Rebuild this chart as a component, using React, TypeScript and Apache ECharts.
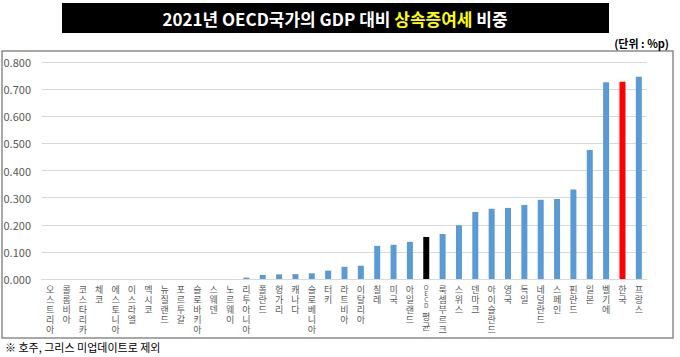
import React, { useEffect, useRef } from "react";
import * as echarts from "echarts";

const categories = [
  "오스트리아", "콜롬비아", "코스타리카", "체코", "에스토니아", "이스라엘", "멕시코", "뉴질랜드",
  "포르투갈", "슬로바키아", "스웨덴", "노르웨이", "리투아니아", "폴란드", "헝가리", "캐나다",
  "슬로베니아", "터키", "라트비아", "이탈리아", "칠레", "미국", "아일랜드", "OECD 평균",
  "룩셈부르크", "스위스", "덴마크", "아이슬란드", "영국", "독일", "네덜란드", "스페인",
  "핀란드", "일본", "벨기에", "한국", "프랑스",
];
const values = [
  0, 0, 0, 0, 0, 0, 0, 0, 0, 0, 0, 0,
  0.005, 0.015, 0.017, 0.018, 0.021, 0.031, 0.045, 0.049, 0.122, 0.126, 0.137, 0.155,
  0.166, 0.198, 0.247, 0.259, 0.262, 0.273, 0.292, 0.295, 0.33, 0.476, 0.725, 0.727, 0.746,
];
const yTicks = { min: 0, max: 0.8, interval: 0.1 };
const highlight: Record<string, string> = { "OECD 평균": "#000000", "한국": "#FF0000" };
const baseColor = "#5B9BD5";

const titleMain = "2021년 OECD국가의 GDP 대비 ";
const titleHi = "상속증여세";
const titleEnd = " 비중";
const unitLabel = "(단위 : %p)";
const footnote = "※ 호주, 그리스 미업데이트로 제외";

export default function App() {
  const ref = useRef<HTMLDivElement>(null);
  useEffect(() => {
    if (!ref.current) return;
    const chart = echarts.init(ref.current, null, { renderer: "svg" });
    const font = "'Noto Sans CJK KR', 'Noto Sans', sans-serif";
    chart.setOption({
      animation: false,
      textStyle: { fontFamily: font },
      grid: { left: 42, right: 33, top: 62, bottom: 78, containLabel: false },
      xAxis: {
        type: "category",
        data: categories,
        axisTick: { show: false },
        axisLine: { lineStyle: { color: "#d9d9d9", width: 1 } },
        axisLabel: {
          interval: 0,
          margin: 5,
          color: "#595959",
          fontSize: 9,
          lineHeight: 10,
          fontFamily: font,
          formatter: (v: string) =>
            v
              .split("")
              .map((c) => (/[A-Za-z]/.test(c) ? `{l|${c}}` : c === " " ? `{s| }` : `{k|${c}}`))
              .join("\n"),
          rich: {
            k: { fontSize: 9, lineHeight: 10, color: "#595959", fontFamily: font },
            l: { fontSize: 6.5, lineHeight: 6, color: "#595959", fontFamily: font },
            s: { fontSize: 3, lineHeight: 3, color: "#595959", fontFamily: font },
          },
        },
      },
      yAxis: {
        type: "value",
        min: yTicks.min,
        max: yTicks.max,
        interval: yTicks.interval,
        axisLine: { show: false },
        axisTick: { show: false },
        splitLine: { lineStyle: { color: "#d9d9d9", width: 1 } },
        axisLabel: {
          margin: 11,
          color: "#595959",
          fontSize: 11,
          fontFamily: font,
          formatter: (v: number) => v.toFixed(3),
        },
      },
      series: [
        {
          type: "bar",
          barWidth: 6,
          data: categories.map((c, i) => ({
            value: values[i],
            itemStyle: { color: highlight[c] || baseColor },
          })),
        },
      ],
      graphic: [
        {
          type: "rect",
          shape: { x: 62, y: 3, width: 547, height: 30 },
          style: { fill: "#000000" },
        },
        {
          type: "text",
          x: 335,
          y: 18,
          style: {
            text: `{w|${titleMain}}{y|${titleHi}}{w|${titleEnd}}`,
            align: "center",
            verticalAlign: "middle",
            rich: {
              w: { fill: "#ffffff", fontSize: 17, fontWeight: "bold", fontFamily: font },
              y: { fill: "#FFFF00", fontSize: 17, fontWeight: "bold", fontFamily: font },
            },
          },
        },
        {
          type: "rect",
          shape: { x: 2, y: 51, width: 671, height: 287 },
          style: { fill: "none", stroke: "#8c8c8c", lineWidth: 1.5 },
          z: -1,
        },
        {
          type: "text",
          x: 669,
          y: 43,
          style: {
            text: unitLabel,
            align: "right",
            verticalAlign: "middle",
            fill: "#000000",
            fontSize: 11,
            fontWeight: "bold",
            fontFamily: font,
          },
        },
        {
          type: "text",
          x: 5,
          y: 347,
          style: {
            text: footnote,
            align: "left",
            verticalAlign: "middle",
            fill: "#000000",
            fontSize: 11,
            fontFamily: font,
          },
        },
      ],
    });
    return () => chart.dispose();
  }, []);
  return (
    <div
      ref={ref}
      style={{ position: "absolute", left: 0, top: 0, width: 680, height: 357, background: "#ffffff" }}
    />
  );
}
